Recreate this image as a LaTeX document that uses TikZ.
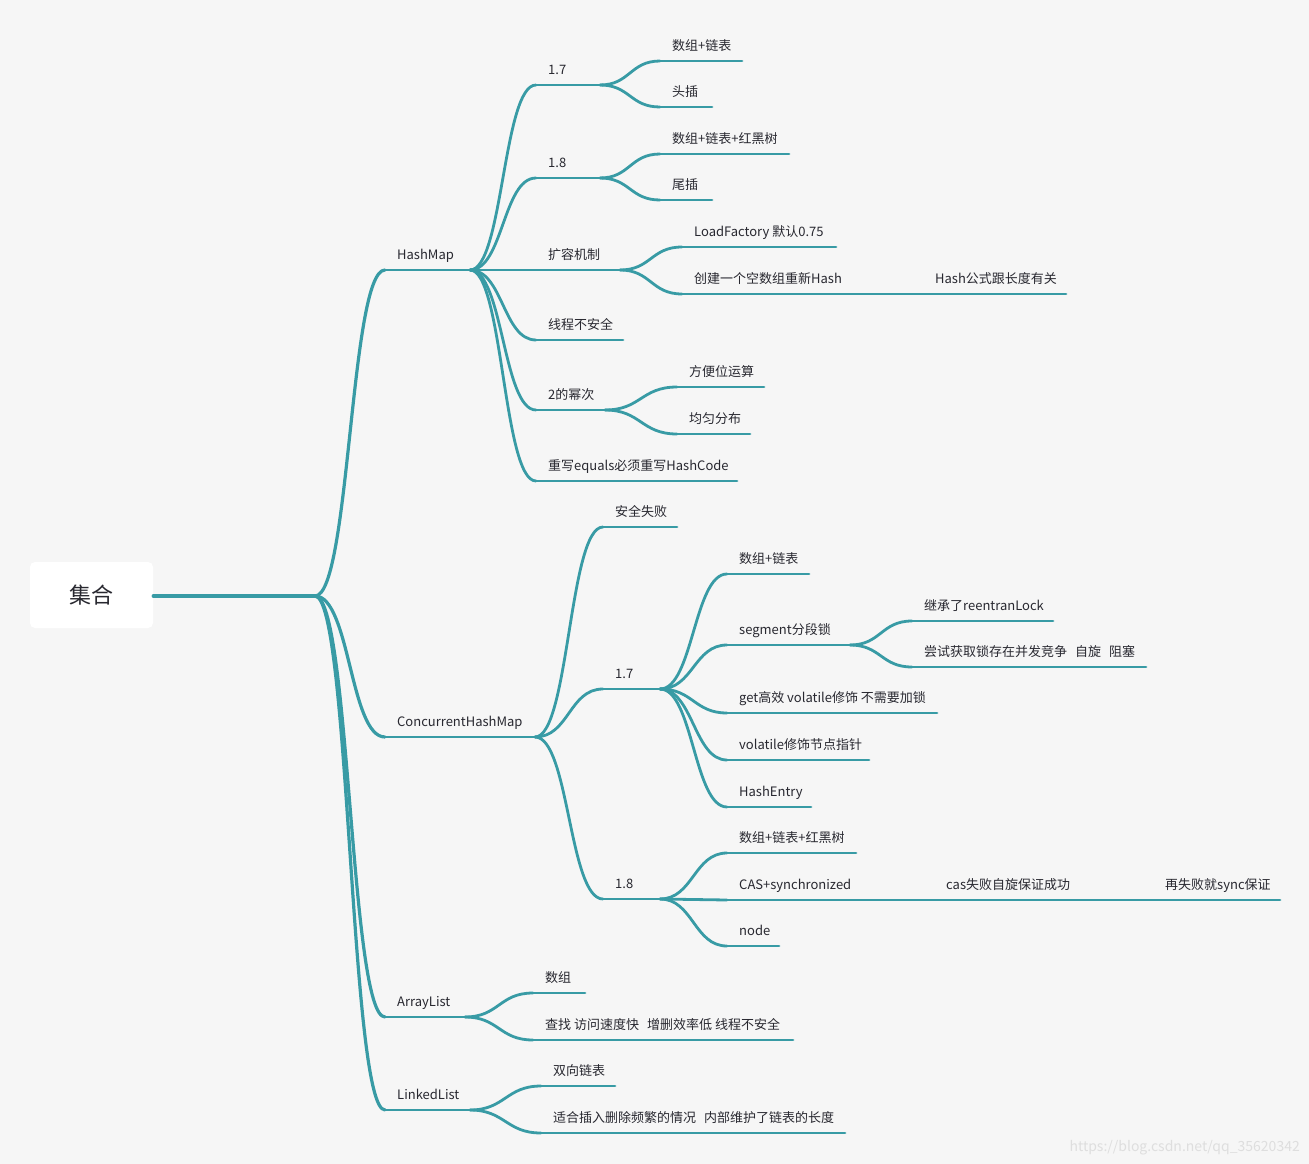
\documentclass[tikz,border=0pt]{standalone}
\usepackage{fontspec}
\setmainfont{Noto Sans CJK SC}
\definecolor{brc}{RGB}{56,155,165}
\definecolor{txt}{RGB}{40,40,48}
\definecolor{bgc}{RGB}{246,246,246}
\tikzset{
  lbl/.style={anchor=base west, inner sep=0pt, font=\fontsize{13}{15}\selectfont, text=txt},
  link/.style={draw=brc, line width=2.8pt, line cap=round},
  mainlink/.style={link, line width=3.2pt},
}
% topic: name, x start, y of underline, x end, text
\newcommand\tp[5]{%
  \coordinate (#1s) at (#2,#3);
  \coordinate (#1e) at (#4,#3);
  \node[lbl] (#1) at ({#2+12},{#3-10.5}) {#5};
  \draw[link] (#1s) -- (#1e);}
% connector: parent, child, control distance
\newcommand\cn[3]{\draw[link] (#1e) .. controls +(#3,0) and +(-#3,0) .. (#2s);}
\newcommand\cnm[3]{\draw[mainlink] (#1e) .. controls +(#3,0) and +(-#3,0) .. (#2s);}
\begin{document}
\begin{tikzpicture}[x=1pt,y=-1pt]
\fill[bgc] (0,0) rectangle (1309,1164);
\useasboundingbox (0,0) rectangle (1309,1164);
% root
\node[fill=white, rounded corners=5pt, minimum width=123pt, minimum height=66pt, inner sep=0pt,
      font=\fontsize{22}{26}\selectfont, text=txt] (root) at (91.5,595) {集合};
\coordinate (roote) at (315,596);
\draw[mainlink] (root.east |- roote) -- (roote);
% level 1
\tp{hm}{385}{270}{470}{HashMap}
\tp{chm}{385}{737}{535}{ConcurrentHashMap}
\tp{al}{385}{1017}{465}{ArrayList}
\tp{ll}{385}{1110}{470}{LinkedList}
\cnm{root}{hm}{35}
\cnm{root}{chm}{35}
\cnm{root}{al}{35}
\cnm{root}{ll}{35}
% HashMap
\tp{ha}{536}{85}{600}{1.7}
\tp{hb}{536}{178}{600}{1.8}
\tp{hc}{536}{270}{620}{扩容机制}
\tp{hd}{536}{340}{623}{线程不安全}
\tp{he}{536}{410}{605}{2的幂次}
\tp{hf}{536}{481}{737}{重写equals必须重写HashCode}
\foreach \c in {ha,hb,hc,hd,he,hf}{\cn{hm}{\c}{33}}
\tp{ha1}{660}{61}{742}{数组+链表}
\tp{ha2}{660}{107}{712}{头插}
\cn{ha}{ha1}{30}\cn{ha}{ha2}{30}
\tp{hb1}{660}{154}{789}{数组+链表+红黑树}
\tp{hb2}{660}{200}{712}{尾插}
\cn{hb}{hb1}{30}\cn{hb}{hb2}{30}
\tp{hc1}{682}{247}{836}{LoadFactory 默认0.75}
\tp{hc2}{682}{294}{925}{创建一个空数组重新Hash}
\cn{hc}{hc1}{31}\cn{hc}{hc2}{31}
\tp{hc21}{923}{294}{1066}{Hash公式跟长度有关}
\draw[link] (hc2e) -- (hc21s);
\tp{he1}{677}{387}{764}{方便位运算}
\tp{he2}{677}{434}{750}{均匀分布}
\cn{he}{he1}{36}\cn{he}{he2}{36}
% ConcurrentHashMap
\tp{ca}{603}{527}{677}{安全失败}
\tp{cb}{603}{689}{660}{1.7}
\tp{cc}{603}{899}{660}{1.8}
\foreach \c in {ca,cb,cc}{\cn{chm}{\c}{34}}
\tp{cb1}{727}{574}{809}{数组+链表}
\tp{cb2}{727}{645}{850}{segment分段锁}
\tp{cb3}{727}{713}{937}{get高效 volatile修饰 不需要加锁}
\tp{cb4}{727}{760}{869}{volatile修饰节点指针}
\tp{cb5}{727}{807}{811}{HashEntry}
\foreach \c in {cb1,cb2,cb3,cb4,cb5}{\cn{cb}{\c}{33}}
\tp{cb21}{912}{621}{1053}{继承了reentranLock}
\tp{cb22}{912}{667}{1146}{尝试获取锁存在并发竞争\hspace{8pt}自旋\hspace{8pt}阻塞}
\cn{cb2}{cb21}{31}\cn{cb2}{cb22}{31}
\tp{cc1}{727}{853}{856}{数组+链表+红黑树}
\tp{cc2}{727}{900}{936}{CAS+synchronized}
\tp{cc3}{727}{946}{779}{node}
\foreach \c in {cc1,cc2,cc3}{\cn{cc}{\c}{33}}
\tp{cc21}{934}{900}{1155}{cas失败自旋保证成功}
\tp{cc22}{1153}{900}{1280}{再失败就sync保证}
\draw[link] (cc2e) -- (cc21s);
\draw[link] (cc21e) -- (cc22s);
% ArrayList
\tp{al1}{533}{993}{585}{数组}
\tp{al2}{533}{1040}{793}{查找 访问速度快\hspace{8pt}增删效率低 线程不安全}
\cn{al}{al1}{34}\cn{al}{al2}{34}
% LinkedList
\tp{ll1}{541}{1086}{615}{双向链表}
\tp{ll2}{541}{1133}{845}{适合插入删除频繁的情况\hspace{8pt}内部维护了链表的长度}
\cn{ll}{ll1}{35}\cn{ll}{ll2}{35}
% watermark
\node[anchor=base east, inner sep=0pt, font=\fontsize{14}{16}\selectfont, text=black!13] (wm) at (1300,1151) {https://blog.csdn.net/qq\_35620342};
\end{tikzpicture}
\end{document}
